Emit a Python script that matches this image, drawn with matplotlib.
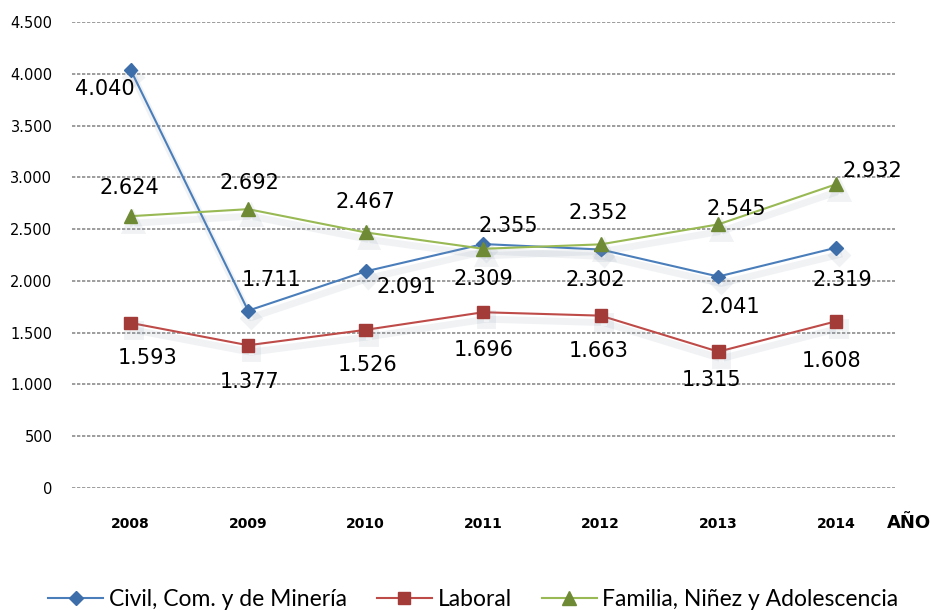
import matplotlib.pyplot as plt
import matplotlib.patheffects as pe
from matplotlib.lines import Line2D

YEARS = ["2008", "2009", "2010", "2011", "2012", "2013", "2014"]
CIVIL = [4040, 1711, 2091, 2355, 2302, 2041, 2319]
LABORAL = [1593, 1377, 1526, 1696, 1663, 1315, 1608]
FAMILIA = [2624, 2692, 2467, 2309, 2352, 2545, 2932]
Y_TICKS = [0, 500, 1000, 1500, 2000, 2500, 3000, 3500, 4000, 4500]

# label offsets in pixels
CIVIL_OFF = [(-26, -19), (23, 31), (41, -16), (25, 18), (-5, -30), (12, -30), (6, -32)]
LABORAL_OFF = [(17, -35), (1, -37), (2, -35), (0, -38), (-2, -35), (-7, -28), (-4, -40)]
FAMILIA_OFF = [(-1, 28), (1, 26), (0, 30), (0, -30), (-2, 31), (18, 15), (36, 13)]

BLUE = "#4A7EBB"
RED = "#BE4B48"
GREEN = "#98B954"


def fmt(v):
    return f"{v:,}".replace(",", ".")


fig = plt.figure(figsize=(9.32, 6.12), dpi=100)
ax = fig.add_axes([0.077, 0.203, 0.883, 0.761])
x = list(range(len(YEARS)))

shadow = [pe.SimpleLineShadow(offset=(2, -5), shadow_color="#8899aa", alpha=0.12, linewidth=5), pe.Normal()]
series = [
    ("Civil, Com. y de Minería", CIVIL, CIVIL_OFF, BLUE, "D", "#3D6EAA", 7),
    ("Laboral", LABORAL, LABORAL_OFF, RED, "s", "#A33B38", 9),
    ("Familia, Niñez y Adolescencia", FAMILIA, FAMILIA_OFF, GREEN, "^", "#6E8A35", 10),
]
handles = []
for name, vals, offs, color, marker, mcol, ms in series:
    ax.plot(x, vals, color=color, lw=1.5, marker=marker, ms=ms, mfc=mcol,
            mec=mcol, zorder=3, path_effects=shadow)
    handles.append(Line2D([], [], color=color, lw=1.5, marker=marker, ms=ms,
                          mfc=mcol, mec=mcol, label=name))
    for xi, v, (dx, dy) in zip(x, vals, offs):
        ax.annotate(fmt(v), (xi, v), xytext=(dx, dy), textcoords="offset pixels",
                    ha="center", va="center", fontsize=15, color="black",
                    family="DejaVu Sans", zorder=5)

ax.set_xlim(-0.5, len(YEARS) - 0.5)
ax.set_ylim(0, 4500)
ax.set_yticks(Y_TICKS, [fmt(t) for t in Y_TICKS])
ax.set_xticks(x, YEARS)
ax.tick_params(axis="y", length=0, pad=14, labelsize=10.5)
ax.tick_params(axis="x", length=0, pad=21, labelsize=10)
for lab in ax.get_xticklabels():
    lab.set_fontweight("bold")
ax.grid(axis="y", color="#8C8C8C", linestyle=(0, (2, 1)), linewidth=1.2, zorder=0)
ax.set_axisbelow(True)
for s in ax.spines.values():
    s.set_visible(False)

fig.text(0.975, 1 - 523 / 612, "AÑO", ha="center", va="center", fontsize=13,
         fontweight="bold")

fig.legend(handles=handles, loc="center", bbox_to_anchor=(0.508, 0.02), ncol=3,
           frameon=False, prop={"family": "Lato", "size": 16.5}, columnspacing=1.3,
           handlelength=2.4, handletextpad=0.25, borderaxespad=0)

fig.savefig("out.png", dpi=100)
